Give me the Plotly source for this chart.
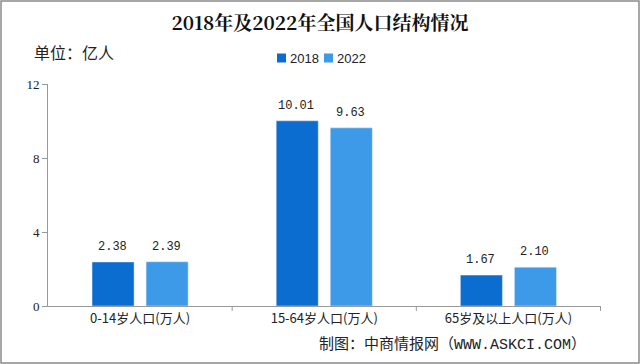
import plotly.graph_objects as go

categories = ["0-14岁人口(万人)", "15-64岁人口(万人)", "65岁及以上人口(万人)"]
years = ["2018", "2022"]
values_2018 = [2.38, 10.01, 1.67]
values_2022 = [2.39, 9.63, 2.10]
y_ticks = [0, 4, 8, 12]
colors = ["#0a6dcf", "#3c9ae8"]

W, H = 640, 364
L, R, T, B = 48, 39, 84, 58
pw, ph = W - L - R, H - T - B

def px(x):
    return (x - L) / pw

def py(y):
    return (H - B - y) / ph

num_font = dict(family="Liberation Mono, DejaVu Sans Mono, monospace", size=12, color="#222")

fig = go.Figure()
for name, vals, col in zip(years, [values_2018, values_2022], colors):
    fig.add_trace(go.Bar(name=name, x=categories, y=vals, marker_color=col,
                         showlegend=False, hoverinfo="x+y+name"))

# value labels above the bars
for vals, shift in zip([values_2018, values_2022], [-27, 27]):
    for cat, v in zip(categories, vals):
        fig.add_annotation(x=cat, y=v, xref="x", yref="y", text=f"{v:.2f}", showarrow=False,
                           xshift=shift - 1, yshift=6, yanchor="bottom", xanchor="center",
                           font=num_font)

fig.update_layout(
    width=W, height=H,
    margin=dict(l=L, r=R, t=T, b=B, autoexpand=False),
    paper_bgcolor="white", plot_bgcolor="white",
    barmode="group", bargap=0.413, bargroupgap=0.222,
    title=dict(text="<b>2018年及2022年全国人口结构情况</b>", x=0.5, xanchor="center",
               y=1 - 23 / H, yanchor="middle",
               font=dict(family="Noto Serif CJK SC, Noto Sans CJK SC, serif", size=19, color="#111")),
    xaxis=dict(showline=True, linecolor="#9a9a9a", linewidth=1, ticks="",
               tickfont=dict(family="Noto Sans CJK SC", size=13, color="#222"),
               showgrid=False, automargin=False),
    yaxis=dict(range=[0, 12], tickvals=y_ticks, showline=True, linecolor="#9a9a9a", linewidth=1,
               ticks="outside", ticklen=5, tickcolor="#9a9a9a", showgrid=False, zeroline=False,
               automargin=False,
               tickfont=dict(family="Liberation Serif, serif", size=13, color="#222")),
    font=dict(family="Noto Sans CJK SC"),
)

# manual compact legend
legend_x = [277, 324]
for name, col, lx in zip(years, colors, legend_x):
    fig.add_shape(type="rect", xref="paper", yref="paper", x0=px(lx), x1=px(lx + 9),
                  y0=py(62.5), y1=py(53.5), fillcolor=col, line=dict(width=0))
    fig.add_annotation(text=name, xref="paper", yref="paper", x=px(lx + 11), y=py(58),
                       xanchor="left", yanchor="middle", showarrow=False,
                       font=dict(family="Liberation Sans, Arial", size=13, color="#222"))

# category separators on x-axis
for xb in [0.5, 1.5, 2.5]:
    fig.add_shape(type="line", xref="x", yref="paper", x0=xb, x1=xb, y0=0, y1=-0.022,
                  line=dict(color="#9a9a9a", width=1))

fig.add_annotation(text="单位：亿人", xref="paper", yref="paper", x=px(32), y=py(52),
                   xanchor="left", yanchor="middle", showarrow=False,
                   font=dict(family="Noto Sans CJK SC", size=16, color="#222"))
fig.add_annotation(text="制图：中商情报网（WWW.ASKCI.COM）", xref="paper", yref="paper",
                   x=px(588), y=py(345), xanchor="right", yanchor="middle", showarrow=False,
                   font=dict(family="Liberation Mono, Noto Sans CJK SC", size=15, color="#222"))

fig.add_shape(type="rect", xref="paper", yref="paper", x0=px(1), x1=px(639), y0=py(363), y1=py(1),
              line=dict(color="#8a8a8a", width=1.5))

fig.write_html("out.html", config={"displayModeBar": False},
               post_script="document.body.style.margin='0';document.body.style.overflow='hidden';")
